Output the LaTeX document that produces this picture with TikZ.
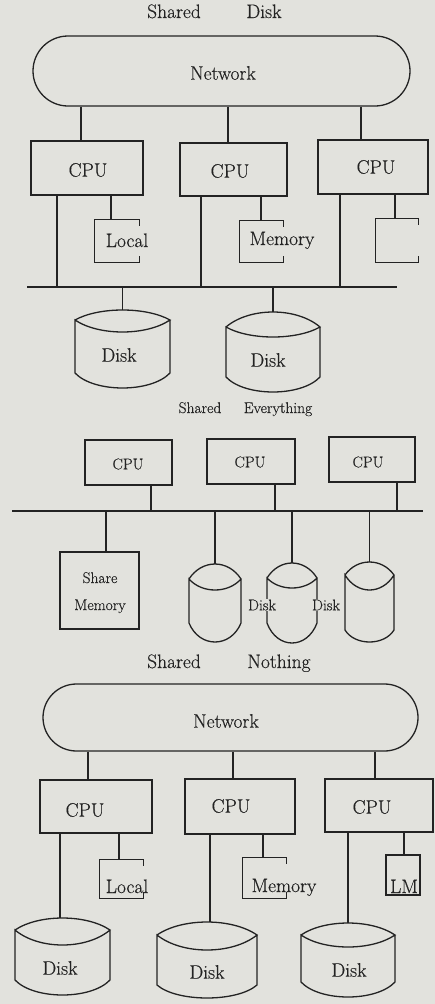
\documentclass[tikz,border=0pt]{standalone}
\usepackage{fontspec}
\newfontfamily\inkfont{Latin Modern Roman}[FakeBold=0.4]
\usetikzlibrary{fit}
\definecolor{bg}{RGB}{226,226,221}
\definecolor{ink}{RGB}{35,35,35}
\newcommand\cyl[8]{% name, x0, x1, ytop, ycorner, ylens, yside, ybot
  \coordinate (#1) at ({(#2+#3)/2},#4);
  \draw[ln] (#2,#5) .. controls ({#2+0.25*(#3-#2)},{#5-1.333*(#5-#4)}) and ({#3-0.25*(#3-#2)},{#5-1.333*(#5-#4)}) .. (#3,#5)
     .. controls ({#3-0.25*(#3-#2)},{#5+1.333*(#6-#5)}) and ({#2+0.25*(#3-#2)},{#5+1.333*(#6-#5)}) .. (#2,#5)
     -- (#2,#7) .. controls ({#2+0.2*(#3-#2)},{#7+1.333*(#8-#7)}) and ({#3-0.2*(#3-#2)},{#7+1.333*(#8-#7)}) .. (#3,#7) -- (#3,#5);
}
\newcommand\openbox[5]{% name, x0, y0, x1, y1
  \node[fit={(#2,#3) (#4,#5)}, inner sep=0pt] (#1) {};
  \draw[ln] ([yshift=-6pt]#1.north east) -- (#1.north east) -- (#1.north west) -- (#1.south west) -- (#1.south east) -- ([yshift=6pt]#1.south east);
}
\begin{document}
\begin{tikzpicture}[x=1pt,y=-1pt,
  ln/.style={draw=ink,line width=1.3pt},
  boxn/.style={ln, inner sep=0pt},
  big/.style={font=\inkfont\fontsize{19.5}{23}\selectfont, text=ink, inner sep=0pt},
  mid/.style={font=\inkfont\fontsize{15.5}{18}\selectfont, text=ink, inner sep=0pt},
  lbl/.style={fill=bg, inner sep=1pt}]
\fill[bg] (0,0) rectangle (435,1004);
\useasboundingbox (0,0) rectangle (435,1004);

% ---------------- Shared Disk ----------------
\node[big, anchor=base] (t1a) at (174,18) {Shared};
\node[big, anchor=base] (t1b) at (264,18) {Disk};
\node[boxn, rounded corners=35pt, fit={(33,36) (410,106)}] (net1) {};
\node[big] (net1t) at (223,73) {Network};
\node[boxn, fit={(31,141) (143,195)}] (c1a) {};
\node[boxn, fit={(180,143) (287,196)}] (c1b) {};
\node[boxn, fit={(318,140) (428,194)}] (c1c) {};
\node[big] (c1at) at (88,170) {CPU};
\node[big] (c1bt) at (230,171) {CPU};
\node[big] (c1ct) at (376,167) {CPU};
\draw[ln] (81,0 |- net1.south) -- (81,0 |- c1a.north);
\draw[ln] (228,0 |- net1.south) -- (228,0 |- c1b.north);
\draw[ln] (361,0 |- net1.south) -- (361,0 |- c1c.north);
\openbox{loc1}{95}{220}{139}{262}
\openbox{mem1}{240}{221}{283}{262}
\openbox{lm1}{376}{219}{418}{262}
\node[big, anchor=base] (loc1t) at (127,247) {Local};
\node[big, anchor=base] (mem1t) at (282,245) {Memory};
\coordinate (b1l) at (27,287);
\coordinate (b1r) at (397,287);
\draw[ln] (b1l) -- (b1r);
\draw[ln] (57,0 |- c1a.south) -- (57,0 |- b1l);
\draw[ln] (111,0 |- c1a.south) -- (111,0 |- loc1.north);
\draw[ln] (201,0 |- c1b.south) -- (201,0 |- b1l);
\draw[ln] (261,0 |- c1b.south) -- (261,0 |- mem1.north);
\draw[ln] (340,0 |- c1c.south) -- (340,0 |- b1l);
\draw[ln] (395,0 |- c1c.south) -- (395,0 |- lm1.north);
\cyl{d1a}{75}{170}{310}{320}{332}{373}{388}
\cyl{d1b}{226}{320}{312}{327}{337}{377}{392}
\draw[ln] (d1a |- b1l) -- (d1a);
\draw[ln] (d1b |- b1l) -- (d1b);
\node[big] (d1at) at (119,355) {Disk};
\node[big] (d1bt) at (268,360) {Disk};

% ---------------- Shared Everything ----------------
\node[mid, anchor=base] (t2a) at (200,413) {Shared};
\node[mid, anchor=base] (t2b) at (278,413) {Everything};
\node[boxn, fit={(85,440) (172,485)}] (c2a) {};
\node[boxn, fit={(207,439) (295,484)}] (c2b) {};
\node[boxn, fit={(329,437) (415,482)}] (c2c) {};
\node[mid] (c2at) at (128,464) {CPU};
\node[mid] (c2bt) at (250,462) {CPU};
\node[mid] (c2ct) at (368,462) {CPU};
\coordinate (b2l) at (12,511);
\coordinate (b2r) at (423,511);
\draw[ln] (b2l) -- (b2r);
\draw[ln] (151,0 |- c2a.south) -- (151,0 |- b2l);
\draw[ln] (275,0 |- c2b.south) -- (275,0 |- b2l);
\draw[ln] (397,0 |- c2c.south) -- (397,0 |- b2l);
\node[boxn, fit={(60,552) (139,629)}] (shm) {};
\node[mid, anchor=base] (shmt1) at (100,583) {Share};
\node[mid, anchor=base] (shmt2) at (100,610) {Memory};
\cyl{dA}{189}{241}{564}{579}{590}{623}{642}
\cyl{dB}{267}{317}{563}{578}{588}{623}{643}
\cyl{dC}{345}{394}{562}{575}{590}{630}{642}
\draw[ln] (106,0 |- b2l) -- (106,0 |- shm.north);
\draw[ln] (dA |- b2l) -- (dA);
\draw[ln] (dB |- b2l) -- (dB);
\draw[ln] (dC |- b2l) -- (dC);
\node[mid, lbl] (dAt) at (262,605) {Disk};
\node[mid, lbl] (dBt) at (326,605) {Disk};

% ---------------- Shared Nothing ----------------
\node[big, anchor=base] (t3a) at (174,668) {Shared};
\node[big, anchor=base] (t3b) at (279,668) {Nothing};
\node[boxn, rounded corners=33.5pt, fit={(43,684) (418,751)}] (net3) {};
\node[big] (net3t) at (226,721) {Network};
\node[boxn, fit={(40,780) (152,833)}] (c3a) {};
\node[boxn, fit={(185,779) (295,834)}] (c3b) {};
\node[boxn, fit={(325,779) (433,832)}] (c3c) {};
\node[big] (c3at) at (85,810) {CPU};
\node[big] (c3bt) at (231,806) {CPU};
\node[big] (c3ct) at (372,807) {CPU};
\draw[ln] (88,0 |- net3.south) -- (88,0 |- c3a.north);
\draw[ln] (233,0 |- net3.south) -- (233,0 |- c3b.north);
\draw[ln] (375,0 |- net3.south) -- (375,0 |- c3c.north);
\openbox{loc3}{100}{860}{143}{898}
\openbox{mem3}{243}{858}{286}{898}
\node[boxn, fit={(386,855) (420,895)}] (lm3) {};
\node[big, anchor=base] (loc3t) at (127,893) {Local};
\node[big, anchor=base] (mem3t) at (284,892) {Memory};
\node[big, anchor=base] (lm3t) at (404,893) {LM};
\cyl{d3a}{15}{110}{918}{930}{945}{980}{995}
\cyl{d3b}{157}{257}{922}{935}{950}{985}{998}
\cyl{d3c}{301}{395}{923}{935}{947}{982}{997}
\draw[ln] (60,0 |- c3a.south) -- (60,0 |- d3a);
\draw[ln] (119,0 |- c3a.south) -- (119,0 |- loc3.north);
\draw[ln] (210,0 |- c3b.south) -- (210,0 |- d3b);
\draw[ln] (263,0 |- c3b.south) -- (263,0 |- mem3.north);
\draw[ln] (348,0 |- c3c.south) -- (348,0 |- d3c);
\draw[ln] (404,0 |- c3c.south) -- (404,0 |- lm3.north);
\node[big] (d3at) at (60,968) {Disk};
\node[big] (d3bt) at (207,972) {Disk};
\node[big] (d3ct) at (349,970) {Disk};
\end{tikzpicture}
\end{document}
